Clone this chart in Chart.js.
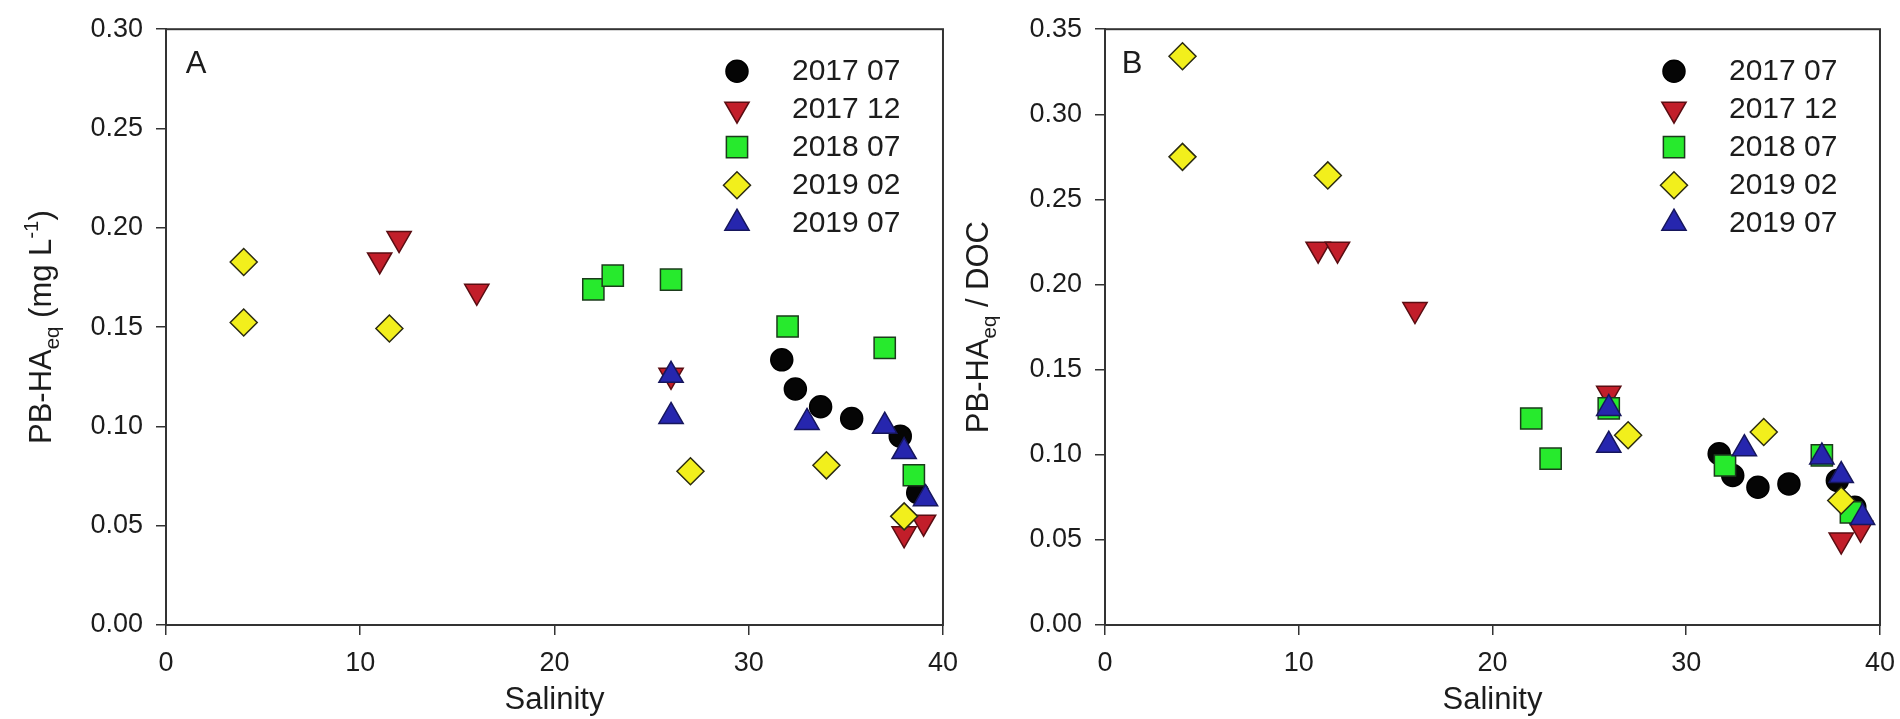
<!DOCTYPE html>
<html>
<head>
<meta charset="utf-8">
<title>PB-HAeq vs salinity</title>
<script src="https://cdn.jsdelivr.net/npm/chart.js@4/dist/chart.umd.min.js"></script>
<style>
  html, body { margin: 0; padding: 0; background: #fff; overflow: hidden; }
  #wrap { position: relative; width: 1900px; height: 719px; }
  .panel { position: absolute; top: 0; height: 719px; }
</style>
</head>
<body>
<div id="wrap">
  <div class="panel" style="left:0"><canvas id="chart-a" width="950" height="719"></canvas></div>
  <div class="panel" style="left:950px"><canvas id="chart-b" width="950" height="719"></canvas></div>
</div>
<script>
// sampling campaigns
const seriesLabels = ["2017 07", "2017 12", "2018 07", "2019 02", "2019 07"];

// salinity of each sample, per campaign
const sal201707 = [31.7, 32.4, 33.7, 35.3, 37.8, 38.7];
const sal201712 = [11, 12, 16, 26, 38, 39];
const sal201807 = [22, 23, 26, 32, 37, 38.5];
const sal201902 = [4, 4, 11.5, 27, 34, 38];
const sal201907 = [26, 26, 33, 37, 38, 39.1];

// panel A: PB-HAeq (mg L-1)
const haq201707 = [0.1335, 0.1188, 0.1099, 0.1040, 0.0951, 0.0666];
const haq201712 = [0.1838, 0.1946, 0.1680, 0.1257, 0.0459, 0.0518];
const haq201807 = [0.1690, 0.1759, 0.1739, 0.1503, 0.1395, 0.0754];
const haq201902 = [0.1828, 0.1523, 0.1493, 0.0774, 0.0804, 0.0547];
const haq201907 = [0.1257, 0.1050, 0.1020, 0.1001, 0.0873, 0.0636];

// panel B: PB-HAeq / DOC
const doc201707 = [0.1006, 0.0878, 0.0809, 0.0829, 0.0849, 0.0691];
const doc201712 = [0.2208, 0.2208, 0.1853, 0.1361, 0.0499, 0.0568];
const doc201807 = [0.1213, 0.0977, 0.1272, 0.0937, 0.0996, 0.0662];
const doc201902 = [0.3341, 0.2750, 0.2641, 0.1115, 0.1134, 0.0731];
const doc201907 = [0.1272, 0.1056, 0.1036, 0.0987, 0.0878, 0.0632];

const salinityTicks = [0, 10, 20, 30, 40];

const markerStyles = [
    { pointStyle: "circle", radius: 11, rotation: 0, fill: "#050505", border: "#000000" },
    { pointStyle: "triangle", radius: 14, rotation: 180, fill: "#c21e2a", border: "#5a0d12" },
    { pointStyle: "rect", radius: 15, rotation: 0, fill: "#27ea2d", border: "#1b3b1b" },
    { pointStyle: "rectRot", radius: 13.5, rotation: 0, fill: "#f2ef1c", border: "#2b2b12" },
    { pointStyle: "triangle", radius: 14, rotation: 0, fill: "#2626ae", border: "#16165c" },
];

const FONT = "'Liberation Sans', Arial, sans-serif";
const TEXT = "#1c1c1c";

function buildDatasets(salLists, valLists) {
    return salLists.map((sal, i) => {
        const st = markerStyles[i];
        return {
            label: seriesLabels[i],
            data: sal.map((x, k) => ({ x: x, y: valLists[i][k] })),
            pointStyle: st.pointStyle,
            pointRadius: st.radius,
            rotation: st.rotation,
            backgroundColor: st.fill,
            borderColor: st.border,
            borderWidth: 1.5,
            showLine: false,
            clip: false,
            order: salLists.length - 1 - i,
        };
    });
}

// frame, panel letter, rich y title and in-plot legend
const panelDecor = {
    id: "panelDecor",
    afterDraw(chart, args, opts) {
        const { ctx, chartArea: a } = chart;
        ctx.save();

        ctx.strokeStyle = "#333333";
        ctx.lineWidth = 2;
        ctx.strokeRect(a.left, a.top, a.right - a.left, a.bottom - a.top);

        ctx.fillStyle = TEXT;
        ctx.font = "31px " + FONT;
        ctx.textAlign = "center";
        ctx.textBaseline = "middle";
        ctx.fillText(opts.letter, a.left + opts.letterDx, a.top + 35);

        // y axis title with subscript / superscript
        const size = 31;
        const parts = opts.yTitle.map((p) => {
            const s = p.sub || p.sup ? size * 0.66 : size;
            ctx.font = s + "px " + FONT;
            return { ...p, s: s, w: ctx.measureText(p.t).width };
        });
        const total = parts.reduce((acc, p) => acc + p.w, 0);
        ctx.save();
        ctx.translate(opts.titleX, (a.top + a.bottom) / 2);
        ctx.rotate(-Math.PI / 2);
        ctx.textAlign = "left";
        ctx.textBaseline = "alphabetic";
        let px = -total / 2;
        parts.forEach((p) => {
            let base = size * 0.36;
            if (p.sub) base += size * 0.26;
            if (p.sup) base -= size * 0.42;
            ctx.font = p.s + "px " + FONT;
            ctx.fillText(p.t, px, base);
            px += p.w;
        });
        ctx.restore();

        // legend
        ctx.font = "30px " + FONT;
        ctx.textAlign = "left";
        ctx.textBaseline = "middle";
        chart.data.datasets.forEach((ds, i) => {
            const y = a.top + 42 + i * 38;
            const mx = a.right - 206;
            ctx.fillStyle = ds.backgroundColor;
            ctx.strokeStyle = ds.borderColor;
            ctx.lineWidth = ds.borderWidth;
            Chart.helpers.drawPoint(ctx, {
                pointStyle: ds.pointStyle,
                rotation: ds.rotation,
                radius: ds.pointRadius,
                borderWidth: ds.borderWidth,
            }, mx, y);
            ctx.fillStyle = TEXT;
            ctx.fillText(ds.label, a.right - 151, y + 1);
        });

        ctx.restore();
    },
};

function chartConfig(datasets, yMax, decor, leftWidth) {
    return {
        type: "scatter",
        data: { datasets },
        options: {
            responsive: false,
            maintainAspectRatio: false,
            animation: false,
            events: [],
            layout: { padding: { left: 0, right: 0, top: 29, bottom: 0 } },
            plugins: {
                legend: { display: false },
                tooltip: { enabled: false },
                panelDecor: decor,
            },
            scales: {
                x: {
                    type: "linear",
                    min: 0,
                    max: 40,
                    afterBuildTicks: (s) => { s.ticks = salinityTicks.map((v) => ({ value: v })); },
                    ticks: { font: { size: 27, family: FONT }, color: TEXT, padding: 12 },
                    grid: { display: true, drawOnChartArea: false, drawTicks: true, tickLength: 10, color: "#333333", lineWidth: 1.5 },
                    border: { display: true, color: "#333333", width: 2 },
                    title: { display: true, text: "Salinity", font: { size: 31, family: FONT }, color: TEXT, padding: { top: 0, bottom: 0 } },
                    afterFit: (s) => { s.height = 94; },
                },
                y: {
                    type: "linear",
                    min: 0,
                    max: yMax,
                    ticks: { stepSize: 0.05, font: { size: 27, family: FONT }, color: TEXT, padding: 13, callback: (v) => v.toFixed(2) },
                    grid: { display: true, drawOnChartArea: false, drawTicks: true, tickLength: 10, color: "#333333", lineWidth: 1.5 },
                    border: { display: true, color: "#333333", width: 2 },
                    afterFit: (s) => { s.width = leftWidth; },
                },
            },
        },
        plugins: [panelDecor],
    };
}

// the last x label overflows to the right, so the plot ends a bit short of the
// canvas edge; rebuild once on a canvas widened by that amount
function makeChart(id, buildConfig, targetRight) {
    const canvas = document.getElementById(id);
    let chart = new Chart(canvas, buildConfig());
    const diff = Math.round(targetRight - chart.chartArea.right);
    if (diff !== 0) {
        const w = chart.width + diff;
        chart.destroy();
        canvas.width = w;
        canvas.height = 719;
        canvas.style.width = w + "px";
        canvas.style.height = "719px";
        canvas.parentNode.style.width = w + "px";
        chart = new Chart(canvas, buildConfig());
    }
    return chart;
}

const salLists = [sal201707, sal201712, sal201807, sal201902, sal201907];

makeChart("chart-a", () => chartConfig(
    buildDatasets(salLists, [haq201707, haq201712, haq201807, haq201902, haq201907]),
    0.30,
    {
        letter: "A",
        letterDx: 30,
        titleX: 40,
        yTitle: [{ t: "PB-HA" }, { t: "eq", sub: true }, { t: " (mg L" }, { t: "-1", sup: true }, { t: ")" }],
    },
    166
), 943);

makeChart("chart-b", () => chartConfig(
    buildDatasets(salLists, [doc201707, doc201712, doc201807, doc201902, doc201907]),
    0.35,
    {
        letter: "B",
        letterDx: 27,
        titleX: 27,
        yTitle: [{ t: "PB-HA" }, { t: "eq", sub: true }, { t: " / DOC" }],
    },
    155
), 930);
</script>
</body>
</html>
